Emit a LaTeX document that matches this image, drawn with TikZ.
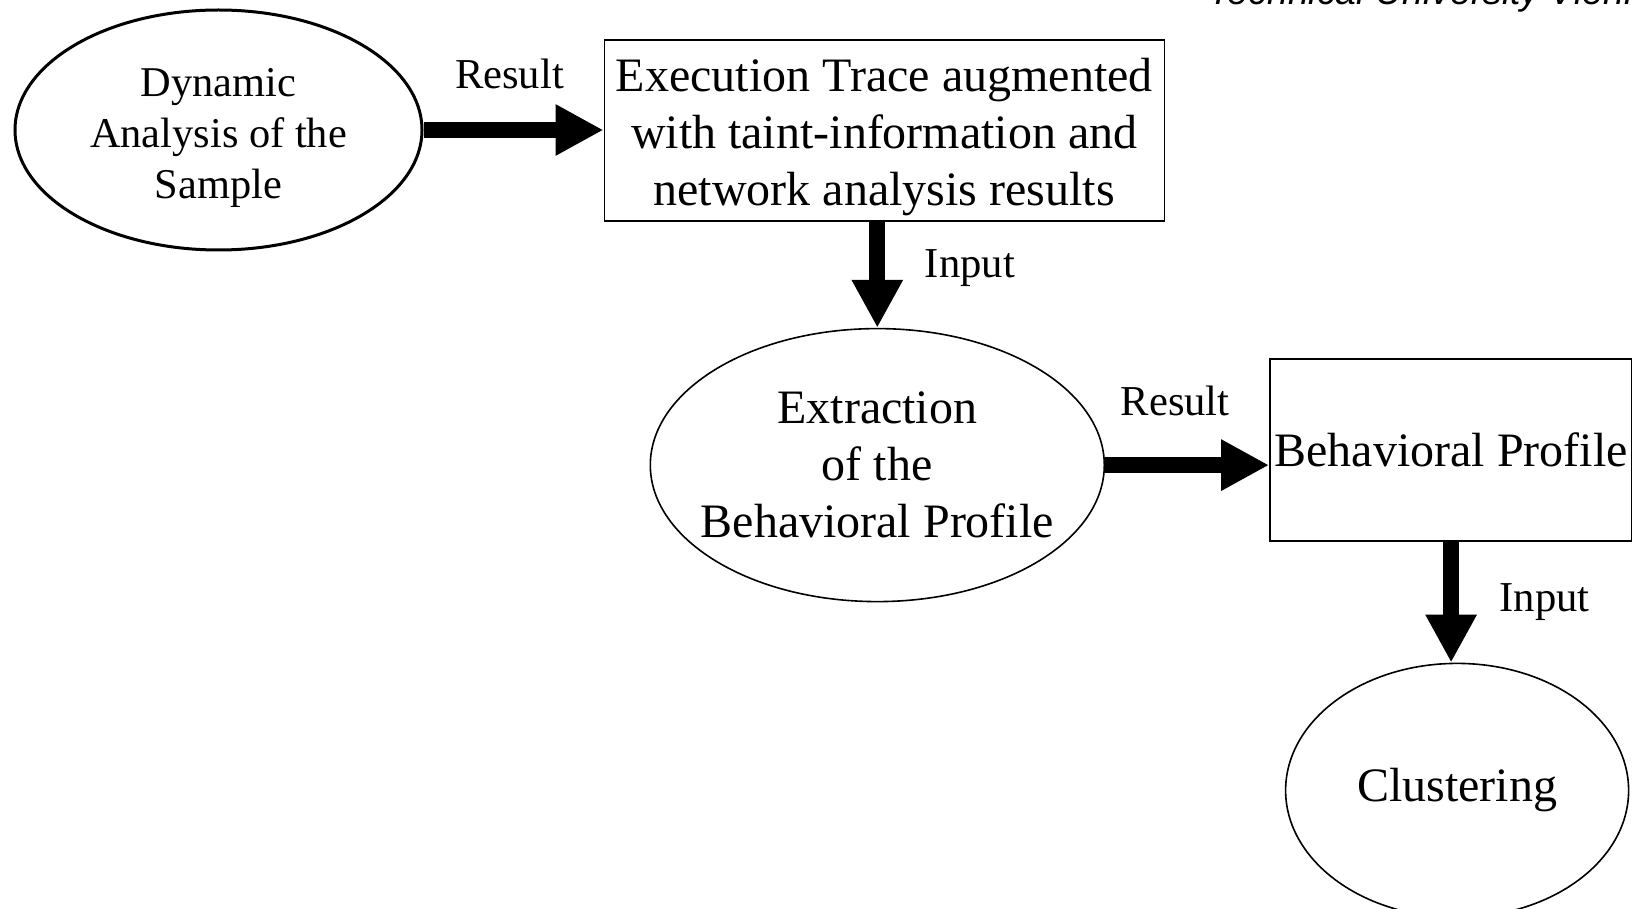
\documentclass[tikz,border=0pt]{standalone}
\usepackage{fontspec}
\setmainfont{Liberation Serif}
\setsansfont{Liberation Sans}
\usetikzlibrary{arrows.meta,positioning,calc,shapes.geometric}

\begin{document}
\begin{tikzpicture}[>={Triangle[width=24pt,length=24pt]},
oval/.style={ellipse,draw,line width=0.8pt,inner sep=0pt,align=center,font=\fontsize{24}{28.5}\selectfont},
datum/.style={draw,line width=0.8pt,inner sep=0pt,align=center,font=\fontsize{24}{28.5}\selectfont},
txt/.style={align=center,font=\fontsize{24}{28.5}\selectfont},
flow/.style={->,line width=8pt},
tag/.style={font=\fontsize{21.3}{25}\selectfont}]
\useasboundingbox (0,0) rectangle (816pt,-454.5pt);
% header, cut off by the page
\node[anchor=base west,inner sep=0pt,font=\sffamily\itshape\fontsize{18.7}{22}\selectfont] (head) at (604pt,-2.5pt) {Technical University Vienna};
% stages
\node[oval,line width=1.5pt,minimum width=203.5pt,minimum height=120pt,font=\fontsize{21.2}{25.5}\selectfont] (dyn) at (109.25pt,-65pt) {\rule{0pt}{22pt}Dynamic\\Analysis of the\\Sample};
\node[datum,minimum width=280pt,minimum height=90.5pt,right=90pt of dyn,yshift=-0.25pt] (trace) {\rule{0pt}{23.4pt}Execution Trace augmented\\with taint-information and\\network analysis results};
\node[oval,minimum width=227pt,minimum height=136.5pt,below=53pt of trace,xshift=-3.5pt] (extract) {};
\node[txt] (extracttxt) at (extract) {Extraction\\of the\\Behavioral Profile};
\node[datum,line width=1pt,minimum width=181pt,minimum height=91pt,right=82pt of extract,yshift=7.75pt] (profile) {Behavioral Profile};
\node[oval,minimum width=171.5pt,minimum height=127pt,below=60.5pt of profile,xshift=3pt] (cluster) {Clustering};
% connectors
\draw[flow] (dyn.east) -- (dyn.east -| trace.west) node[tag,midway,above=13pt,xshift=-2pt] (res1) {Result};
\draw[flow] (trace.south -| extract.north) -- (extract.north) node[tag,midway,right=16.5pt,yshift=3.5pt] (in1) {Input};
\draw[flow] (extract.east) -- (extract.east -| profile.west) node[tag,midway,above=17.5pt,xshift=-6pt] (res2) {Result};
\draw[flow] (profile.south) -- (profile.south |- cluster.north) node[tag,midway,right=17pt] (in2) {Input};
\end{tikzpicture}
\end{document}
